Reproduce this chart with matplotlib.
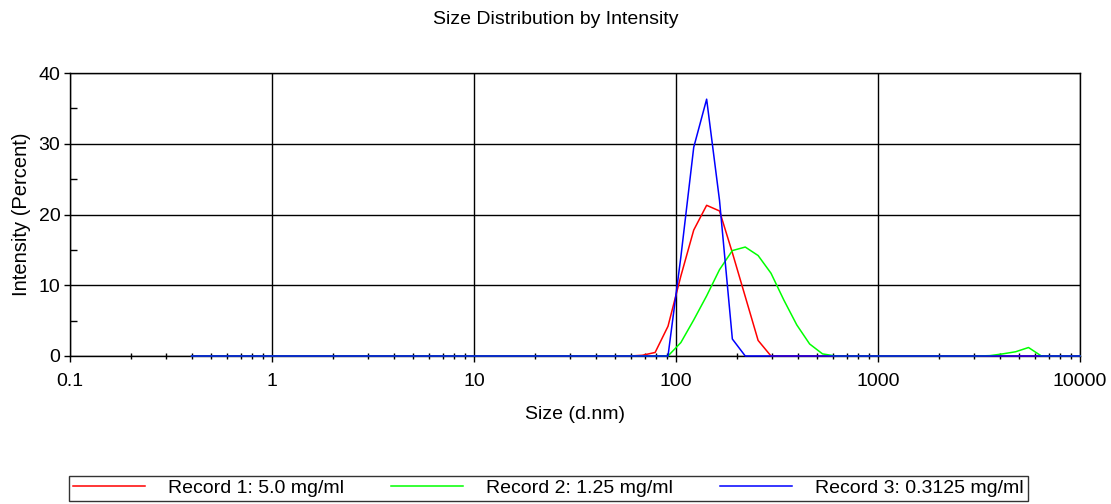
import matplotlib
matplotlib.use("Agg")
import matplotlib.pyplot as plt
from matplotlib.ticker import FixedLocator, FixedFormatter, LogLocator, NullFormatter, MultipleLocator

plt.rcParams['font.family'] = ['Liberation Sans', 'DejaVu Sans']

# Data (size in d.nm, intensity in percent)
red_size = [0.4, 58.77, 68.06, 78.82, 91.28, 105.7, 122.4, 141.8, 164.2, 190.1, 220.2, 255.0, 295.3, 10000]
red_int = [0, 0, 0.1, 0.5, 4.2, 11.3, 17.8, 21.3, 20.5, 14.6, 8.4, 2.2, 0, 0]

green_size = [0.4, 91.28, 105.7, 122.4, 141.8, 164.2, 190.1, 220.2, 255.0, 295.3, 342.0, 396.1,
              458.7, 531.2, 615.1, 3091, 3580, 4145, 4801, 5560, 6439, 10000]
green_int = [0, 0, 1.9, 5.1, 8.5, 12.2, 14.9, 15.4, 14.2, 11.7, 7.9, 4.4,
             1.7, 0.3, 0, 0, 0.05, 0.3, 0.6, 1.2, 0, 0]

blue_size = [0.4, 91.28, 105.7, 122.4, 141.8, 164.2, 190.1, 220.2, 10000]
blue_int = [0, 0, 14.0, 29.5, 36.3, 22.0, 2.4, 0, 0]

labels = ["Record 1: 5.0 mg/ml", "Record 2: 1.25 mg/ml", "Record 3: 0.3125 mg/ml"]
x_ticks = [0.1, 1, 10, 100, 1000, 10000]
x_ticklabels = ["0.1", "1", "10", "100", "1000", "10000"]
y_ticks = [0, 10, 20, 30, 40]

W, H = 1111, 504
fig = plt.figure(figsize=(W / 100, H / 100), dpi=100)
ax = fig.add_axes([70 / W, 1 - 356 / H, (1080 - 70) / W, (356 - 73) / H])

l1, = ax.plot(red_size, red_int, color="#ff0000", lw=1.1, clip_on=False, zorder=4)
l2, = ax.plot(green_size, green_int, color="#00ff00", lw=1.1, clip_on=False, zorder=4)
l3, = ax.plot(blue_size, blue_int, color="#0000ff", lw=1.1, clip_on=False, zorder=4)

ax.set_xscale("log")
ax.set_xlim(0.1, 10000)
ax.set_ylim(0, 40)
ax.xaxis.set_major_locator(FixedLocator(x_ticks))
ax.xaxis.set_major_formatter(FixedFormatter(x_ticklabels))
ax.xaxis.set_minor_locator(LogLocator(base=10, subs=range(2, 10), numticks=20))
ax.xaxis.set_minor_formatter(NullFormatter())
ax.yaxis.set_major_locator(FixedLocator(y_ticks))
ax.yaxis.set_minor_locator(MultipleLocator(5))

ax.grid(True, which="major", color="black", lw=1.0)
for s in ax.spines.values():
    s.set_color("black")
    s.set_linewidth(1.0)

ax.tick_params(axis="both", which="major", labelsize=14, color="black", width=1.0, length=4, direction="out", pad=3)
ax.tick_params(axis="x", which="minor", direction="inout", length=5, width=1.0, color="black")
ax.tick_params(axis="y", which="minor", direction="in", length=5, width=1.0, color="black")
ax.tick_params(axis="x", which="major", pad=8)

ax.set_xlabel("Size (d.nm)", fontsize=14, labelpad=12)
ax.set_ylabel("Intensity (Percent)", fontsize=14.5, labelpad=5)
fig.suptitle("Size Distribution by Intensity", fontsize=14, y=1 - 19 / H, va="center")

leg = fig.legend([l1, l2, l3], labels, ncol=3, mode="expand",
                 bbox_to_anchor=(69 / W, 1 - 501 / H, (1028 - 69) / W, 28 / H),
                 loc="lower left", fontsize=14, frameon=True, fancybox=False,
                 handlelength=3.7, handletextpad=1.2, borderpad=0.2, borderaxespad=0,
                 handleheight=0.7)
leg.get_frame().set_edgecolor("black")
leg.get_frame().set_linewidth(1.0)

fig.savefig("out.png", dpi=100)
